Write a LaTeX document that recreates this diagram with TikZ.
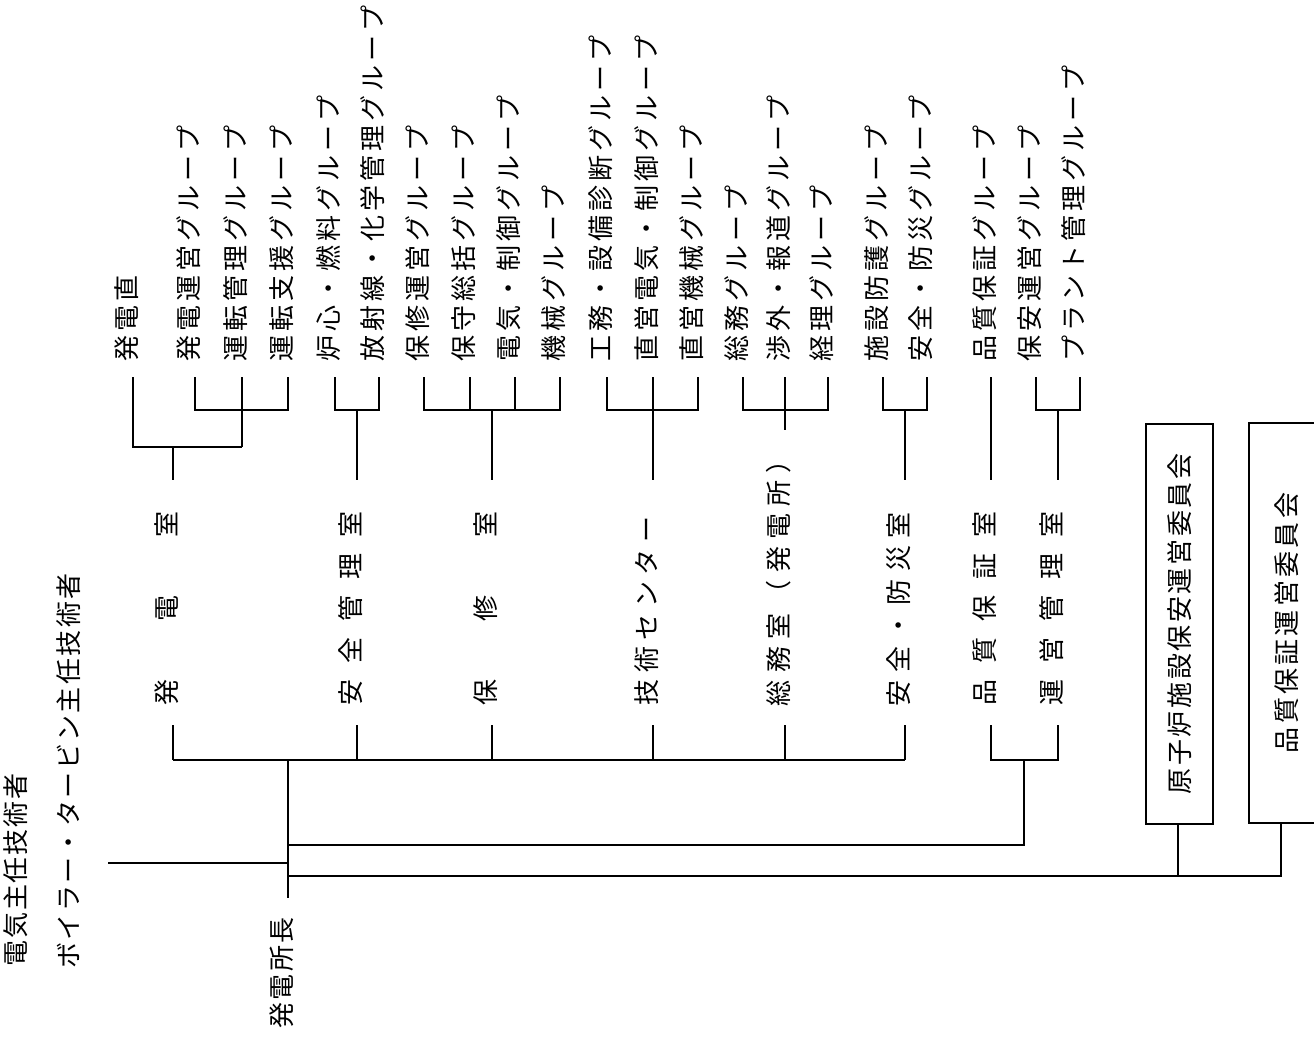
\documentclass[tikz,border=0pt]{standalone}
\usepackage{fontspec}
\newfontfamily\jpfont{Noto Sans CJK JP}
% set each character in a box of fixed pitch (text runs along the rotated node)
\ExplSyntaxOn
\NewDocumentCommand\pitched{m m}{\tl_map_inline:nn {#2}{\makebox[#1pt]{##1}}}
\ExplSyntaxOff
\newcommand\jpsize{\jpfont\fontsize{26}{30}\selectfont}
\tikzset{
  conn/.style={line width=1.6pt},
  lbl/.style={rotate=90, anchor=west, inner sep=0pt, font=\jpsize,
              text height=0.88em, text depth=0.12em},
  cbox/.style={draw, line width=1.6pt, rotate=90, inner sep=0pt, font=\jpsize,
               minimum width=400pt, minimum height=67pt}
}
\begin{document}
\begin{tikzpicture}[x=1pt, y=-1pt]
\useasboundingbox (0,0) rectangle (1314,1050);
\fill[white] (0,0) rectangle (1314,1050);

% ---- levels used by the brackets ----
\coordinate (barA) at (0,410);
\coordinate (barB) at (0,447);
\coordinate (rtop) at (0,480);
\coordinate (rbot) at (0,725);
\coordinate (bbar) at (0,760);
\coordinate (upl)  at (0,845);
\coordinate (lowl) at (0,876);

% ---- groups ----
\node[lbl] (g1)  at (133,364)  {\pitched{30}{発電直}};
\node[lbl] (g2)  at (195,364)  {\pitched{30}{発電運営グループ}};
\node[lbl] (g3)  at (242,364)  {\pitched{30}{運転管理グループ}};
\node[lbl] (g4)  at (288,364)  {\pitched{30}{運転支援グループ}};
\node[lbl] (g5)  at (335,364)  {\pitched{30}{炉心・燃料グループ}};
\node[lbl] (g6)  at (379,364)  {\pitched{30}{放射線・化学管理グループ}};
\node[lbl] (g7)  at (424,364)  {\pitched{30}{保修運営グループ}};
\node[lbl] (g8)  at (470,364)  {\pitched{30}{保守総括グループ}};
\node[lbl] (g9)  at (515,364)  {\pitched{30}{電気・制御グループ}};
\node[lbl] (g10) at (560,364)  {\pitched{30}{機械グループ}};
\node[lbl] (g11) at (607,364)  {\pitched{30}{工務・設備診断グループ}};
\node[lbl] (g12) at (653,364)  {\pitched{30}{直営電気・制御グループ}};
\node[lbl] (g13) at (698,364)  {\pitched{30}{直営機械グループ}};
\node[lbl] (g14) at (743,364)  {\pitched{30}{総務グループ}};
\node[lbl] (g15) at (785,364)  {\pitched{30}{渉外・報道グループ}};
\node[lbl] (g16) at (828,364)  {\pitched{30}{経理グループ}};
\node[lbl] (g17) at (883,364)  {\pitched{30}{施設防護グループ}};
\node[lbl] (g18) at (927,364)  {\pitched{30}{安全・防災グループ}};
\node[lbl] (g19) at (991,364)  {\pitched{30}{品質保証グループ}};
\node[lbl] (g20) at (1036,364) {\pitched{30}{保安運営グループ}};
\node[lbl] (g21) at (1080,364) {\pitched{30}{プラント管理グループ}};

% ---- offices ----
\node[lbl] (r1) at (173,735)  {\pitched{84}{発電室}};
\node[lbl] (r2) at (357,714)  {\pitched{42}{安全管理室}};
\node[lbl] (r3) at (492,735)  {\pitched{84}{保修室}};
\node[lbl] (r4) at (653,709)  {\pitched{32.6}{技術センター}};
\node[lbl] (r5) at (785,710)  {\pitched{33.3}{総務室（発電所）}};
\node[lbl] (r6) at (905,710)  {\pitched{33.6}{安全・防災室}};
\node[lbl] (r7) at (991,714)  {\pitched{42}{品質保証室}};
\node[lbl] (r8) at (1058,714) {\pitched{42}{運営管理室}};

% ---- chief engineers and station director ----
\node[lbl, anchor=center] (elec)  at (22,870)  {\pitched{27.7}{電気主任技術者}};
\node[lbl, anchor=center] (boil)  at (75,771)  {\pitched{28.4}{ボイラー・タービン主任技術者}};
\node[lbl, anchor=center] (chief) at (288,973) {\pitched{28.3}{発電所長}};

% ---- committees ----
\node[cbox] (c1) at (1179.5,624) {\pitched{28.6}{原子炉施設保安運営委員会}};
\node[cbox, minimum height=76pt] (c2) at (1287,623) {\pitched{29.3}{品質保証運営委員会}};

% ---- group brackets ----
% 発電室
\draw[conn] ([yshift=-13pt]g2.west) |- (g4.west |- barA) -- ([yshift=-13pt]g4.west);
\draw[conn] ([yshift=-13pt]g3.west) -- (g3.west |- barB);
\draw[conn] ([yshift=-13pt]g1.west) |- (g3.west |- barB);
\draw[conn] (r1.east |- barB) -- (r1.east |- rtop);
% 安全管理室
\draw[conn] ([yshift=-13pt]g5.west) |- (g6.west |- barA) -- ([yshift=-13pt]g6.west);
\draw[conn] (r2.east |- barA) -- (r2.east |- rtop);
% 保修室
\draw[conn] ([yshift=-13pt]g7.west) |- (g10.west |- barA) -- ([yshift=-13pt]g10.west);
\draw[conn] ([yshift=-13pt]g8.west) -- (g8.west |- barA);
\draw[conn] ([yshift=-13pt]g9.west) -- (g9.west |- barA);
\draw[conn] (r3.east |- barA) -- (r3.east |- rtop);
% 技術センター
\draw[conn] ([yshift=-13pt]g11.west) |- (g13.west |- barA) -- ([yshift=-13pt]g13.west);
\draw[conn] ([yshift=-13pt]g12.west) -- (r4.east |- rtop);
% 総務室（発電所）
\draw[conn] ([yshift=-13pt]g14.west) |- (g16.west |- barA) -- ([yshift=-13pt]g16.west);
\draw[conn] ([yshift=-13pt]g15.west) -- ([yshift=13pt]r5.east);
% 安全・防災室
\draw[conn] ([yshift=-13pt]g17.west) |- (g18.west |- barA) -- ([yshift=-13pt]g18.west);
\draw[conn] (r6.east |- barA) -- (r6.east |- rtop);
% 品質保証室
\draw[conn] ([yshift=-13pt]g19.west) -- (r7.east |- rtop);
% 運営管理室
\draw[conn] ([yshift=-13pt]g20.west) |- (g21.west |- barA) -- ([yshift=-13pt]g21.west);
\draw[conn] (r8.east |- barA) -- (r8.east |- rtop);

% ---- offices to the station director ----
\foreach \r in {r1,r2,r3,r4,r5,r6}
  \draw[conn] (\r.west |- rbot) -- (\r.west |- bbar);
\draw[conn] (r1.west |- bbar) -- (r6.west |- bbar);
\coordinate (trunk) at (288,760);
\draw[conn] (trunk) -- ([yshift=18pt]chief.east);
\coordinate (tech) at (108,863);
\draw[conn] (tech) -- (tech -| trunk);

% quality assurance and operation management offices
\coordinate (qa) at (1024,760);
\draw[conn] (r7.west |- rbot) |- (r8.west |- bbar) -- (r8.west |- rbot);
\draw[conn] (trunk |- upl) -| (qa);

% committees
\draw[conn] (trunk |- lowl) -| ([xshift=-6pt]c2.west);
\draw[conn] ([xshift=-1.5pt]c1.west) -- ([xshift=-1.5pt]c1.west |- lowl);
\end{tikzpicture}
\end{document}
